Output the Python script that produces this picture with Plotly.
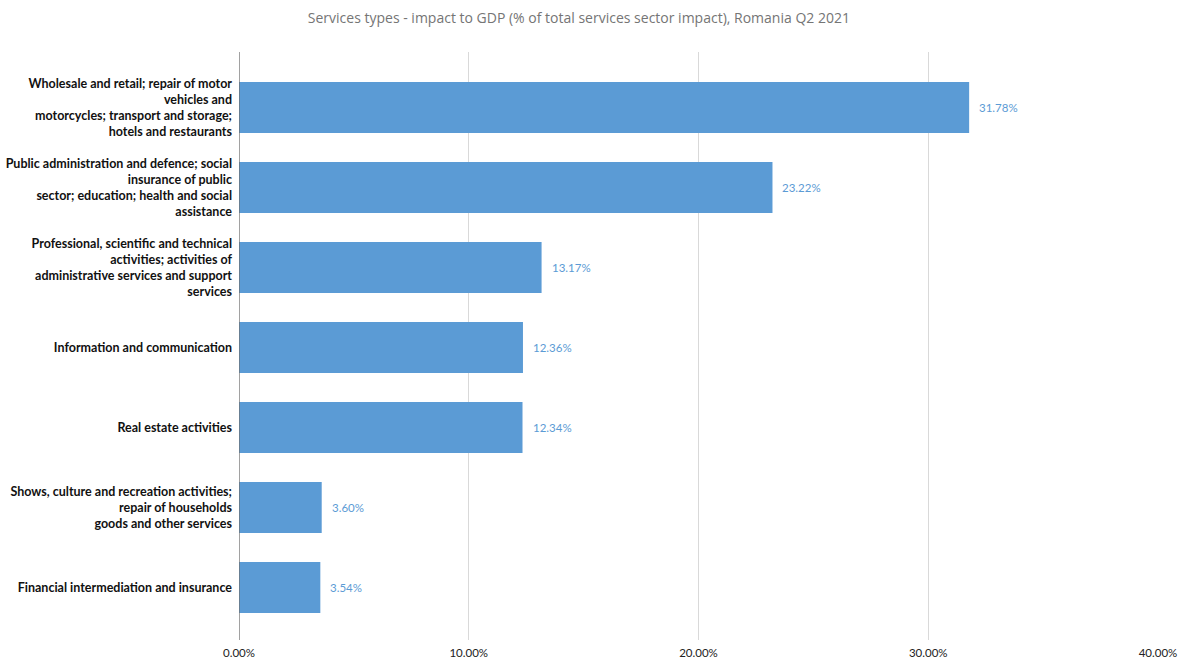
import plotly.graph_objects as go

# Service categories (top to bottom) and their share of the services sector impact, in %
categories = [
    "Wholesale and retail; repair of motor<br>vehicles and<br>motorcycles; transport and storage;<br>hotels and restaurants",
    "Public administration and defence; social<br>insurance of public<br>sector; education; health and social<br>assistance",
    "Professional, scientific and technical<br>activities; activities of<br>administrative services and support<br>services",
    "Information and communication",
    "Real estate activities",
    "Shows, culture and recreation activities;<br>repair of households<br>goods and other services",
    "Financial intermediation and insurance",
]
shares = [31.78, 23.22, 13.17, 12.36, 12.34, 3.60, 3.54]

x_tick_values = [0, 10, 20, 30, 40]
x_tick_labels = ["0.00%", "10.00%", "20.00%", "30.00%", "40.00%"]

title_text = "Services types - impact to GDP (% of total services sector impact), Romania Q2 2021"

BAR_COLOR = "#5b9bd5"

fig = go.Figure(
    go.Bar(
        x=shares,
        y=categories,
        orientation="h",
        marker=dict(color=BAR_COLOR, line=dict(width=0)),
        width=0.64,
        hoverinfo="x+y",
    )
)

# Value labels next to each bar
for cat, val in zip(categories, shares):
    fig.add_annotation(
        x=val, y=cat, xref="x", yref="y",
        text=f"{val:.2f}%", showarrow=False,
        xanchor="left", xshift=8,
        font=dict(family="Lato, Open Sans, sans-serif", size=11.5, color=BAR_COLOR),
    )

fig.update_layout(
    width=1179, height=662,
    paper_bgcolor="white", plot_bgcolor="white",
    margin=dict(l=239, r=21, t=52, b=22, autoexpand=False),
    showlegend=False,
    bargap=0.36,
    title=dict(
        text=title_text, x=0.491, xanchor="center", y=0.972, yanchor="middle",
        font=dict(family="Open Sans, Lato, sans-serif", size=14, color="#757575"),
    ),
    xaxis=dict(
        range=[0, 40],
        tickvals=x_tick_values, ticktext=x_tick_labels,
        showgrid=True, gridcolor="#d9d9d9", gridwidth=1,
        zeroline=False, showline=False, ticks="",
        ticklabelstandoff=4,
        automargin=False,
        tickfont=dict(family="Lato, Open Sans, sans-serif", size=11.5, color="#222222"),
        fixedrange=True,
    ),
    yaxis=dict(
        range=[6.656, -0.694],
        showgrid=False, zeroline=False, ticks="",
        showline=False,
        automargin=False,
        tickfont=dict(family="Lato, Open Sans, sans-serif", size=12.5, color="#111111", weight="bold"),
        ticklabelstandoff=6,
        fixedrange=True,
    ),
)

# Category axis line at zero
fig.add_shape(type="line", xref="x", yref="paper", x0=0, x1=0, y0=0, y1=1,
              line=dict(color="#6e6e6e", width=1.3))

fig.write_html("out.html")
